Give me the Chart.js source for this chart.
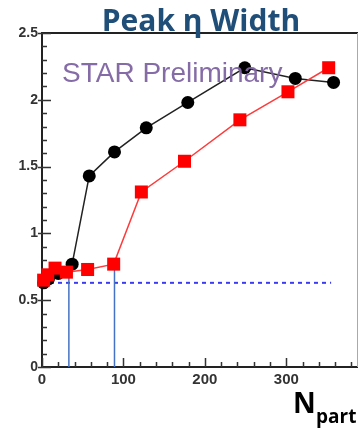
<!DOCTYPE html>
<html>
<head>
<meta charset="utf-8">
<script src="https://cdn.jsdelivr.net/npm/chart.js@4/dist/chart.umd.min.js"></script>
<style>
html,body{margin:0;padding:0;background:#fff;}
#wrap{position:relative;width:360px;height:429px;}
</style>
</head>
<body>
<div id="wrap"><canvas id="c" width="360" height="429"></canvas></div>
<script>
// ---- data ----
const nPartBlack = [2, 8, 20, 37, 58, 89, 128, 179, 249, 311, 358];
const widthBlack = [0.63, 0.66, 0.70, 0.77, 1.43, 1.61, 1.79, 1.98, 2.24, 2.16, 2.13];
const nPartRed = [2, 7, 16, 30, 56, 88, 122, 175, 243, 302, 352];
const widthRed = [0.65, 0.69, 0.74, 0.71, 0.73, 0.77, 1.31, 1.54, 1.85, 2.06, 2.24];
const baselineY = 0.63;
const baselineX = [0, 355];
const markerN = [33, 89];
const markerTop = [0.67, 0.78];
const xTickMajor = [0, 100, 200, 300];
const yTickMajor = [0, 0.5, 1, 1.5, 2, 2.5];
const titleText = 'Peak η Width';
const watermark = 'STAR Preliminary';
const xTitleMain = 'N';
const xTitleSub = 'part';

const toPts = (xs, ys) => xs.map((x, i) => ({x: x, y: ys[i]}));

const datasets = [
  {
    label: 'baseline', type: 'line',
    data: baselineX.map(x => ({x: x, y: baselineY})),
    borderColor: '#3b3bf2', borderWidth: 2, borderDash: [4, 4],
    pointRadius: 0, fill: false, clip: false, order: 5
  },
  ...markerN.map((n, i) => ({
    label: 'marker' + i, type: 'line',
    data: [{x: n, y: 0}, {x: n, y: markerTop[i]}],
    borderColor: '#4472c4', borderWidth: 1.5,
    pointRadius: 0, fill: false, clip: false, order: 4
  })),
  {
    label: 'black', type: 'line',
    data: toPts(nPartBlack, widthBlack),
    borderColor: '#222222', borderWidth: 1.5,
    pointStyle: 'circle', pointRadius: 6.5, pointBackgroundColor: '#000000',
    pointBorderWidth: 0, pointBorderColor: '#000000',
    fill: false, clip: false, order: 2
  },
  {
    label: 'red', type: 'line',
    data: toPts(nPartRed, widthRed),
    borderColor: '#ff3a3a', borderWidth: 1.5,
    pointStyle: 'rect', pointRadius: 9.2, pointBackgroundColor: '#ff0000',
    pointBorderWidth: 0, pointBorderColor: '#ff0000',
    fill: false, clip: false, order: 1
  }
];

const decor = {
  id: 'decor',
  beforeDatasetsDraw(chart) {
    const {ctx, chartArea: a, scales: {x, y}} = chart;
    ctx.save();
    // frame
    ctx.strokeStyle = '#222';
    ctx.lineWidth = 2;
    ctx.beginPath();
    ctx.moveTo(a.right, a.top); ctx.lineTo(a.left, a.top);
    ctx.lineTo(a.left, a.bottom); ctx.lineTo(a.right, a.bottom);
    ctx.stroke();
    ctx.strokeStyle = '#aaa';
    ctx.lineWidth = 1;
    ctx.beginPath();
    ctx.moveTo(a.right - 0.5, a.top); ctx.lineTo(a.right - 0.5, a.bottom);
    ctx.stroke();
    // inward tick marks
    ctx.strokeStyle = '#333';
    ctx.lineWidth = 1.5;
    ctx.beginPath();
    for (let v = 0; v <= x.max; v += 20) {
      const px = Math.round(x.getPixelForValue(v)) + 0.5;
      const len = (v % 100 === 0) ? 9 : 5;
      ctx.moveTo(px, a.bottom); ctx.lineTo(px, a.bottom - len);
    }
    for (let k = 0; k <= 25; k++) {
      const v = k / 10;
      const py = Math.round(y.getPixelForValue(v)) + 0.5;
      const len = (k % 5 === 0) ? 9 : 5;
      ctx.moveTo(a.left - (k % 5 === 0 ? 4 : 0), py); ctx.lineTo(a.left + len, py);
    }
    ctx.stroke();
    ctx.restore();
  },
  afterDraw(chart) {
    const {ctx} = chart;
    ctx.save();
    ctx.textBaseline = 'alphabetic';
    // title
    ctx.fillStyle = '#1f4e79';
    ctx.font = 'bold 30px "Open Sans"';
    ctx.textAlign = 'center';
    ctx.fillText(titleText, 201, 31);
    // watermark
    ctx.fillStyle = 'rgba(128,100,162,0.95)';
    ctx.font = '28px "Liberation Sans"';
    ctx.textAlign = 'left';
    ctx.fillText(watermark, 62, 82);
    // x axis title
    ctx.fillStyle = '#000';
    ctx.font = 'bold 28px "Open Sans"';
    ctx.fillText(xTitleMain, 293, 413);
    ctx.font = 'bold 19px "Open Sans"';
    ctx.fillText(xTitleSub, 316, 423);
    ctx.restore();
  }
};

new Chart(document.getElementById('c'), {
  type: 'scatter',
  data: {datasets: datasets},
  plugins: [decor],
  options: {
    responsive: false,
    animation: false,
    events: [],
    layout: {autoPadding: false, padding: {top: 33, right: 2, left: 0, bottom: 0}},
    plugins: {legend: {display: false}, tooltip: {enabled: false}, title: {display: false}},
    scales: {
      x: {
        type: 'linear', min: 0, max: 388,
        afterFit(s) { s.height = 62; },
        afterBuildTicks(s) { s.ticks = xTickMajor.map(v => ({value: v})); },
        grid: {display: false, drawTicks: false},
        border: {display: false},
        ticks: {padding: 4, color: '#333', callback: v => String(v), font: {family: '"Liberation Sans"', weight: 'bold', size: 15}, maxRotation: 0}
      },
      y: {
        type: 'linear', min: 0, max: 2.5,
        afterFit(s) { s.width = 42; },
        afterBuildTicks(s) { s.ticks = yTickMajor.map(v => ({value: v})); },
        grid: {display: false, drawTicks: false},
        border: {display: false},
        ticks: {padding: 4, color: '#333', callback: v => String(v), font: {family: '"Liberation Sans"', weight: 'bold', size: 14}}
      }
    }
  }
});
</script>
</body>
</html>
